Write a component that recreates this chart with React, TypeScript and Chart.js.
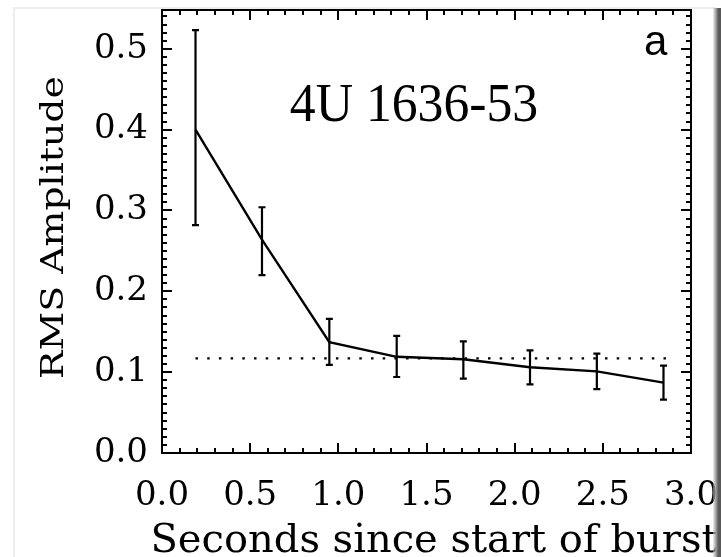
import React, { useEffect, useRef } from 'react';
import { Chart, registerables } from 'chart.js';

Chart.register(...registerables);

// Burst time bins (s) and fractional RMS amplitude with 1-sigma limits
const burstTimes = [0.19, 0.567, 0.949, 1.331, 1.709, 2.087, 2.466, 2.844];
const rmsAmplitude = [0.4, 0.264, 0.137, 0.119, 0.116, 0.106, 0.101, 0.087];
const rmsUpper = [0.523, 0.304, 0.166, 0.145, 0.138, 0.127, 0.123, 0.108];
const rmsLower = [0.282, 0.22, 0.109, 0.094, 0.092, 0.085, 0.079, 0.066];

// Mean amplitude level shown as a dotted reference
const meanLevel = 0.117;
const meanLevelSpan = [0.19, 2.86];

// Axes
const xTickValues = [0, 0.5, 1.0, 1.5, 2.0, 2.5, 3.0];
const yTickValues = [0, 0.1, 0.2, 0.3, 0.4, 0.5];
const xRange = [0, 3.0];
const yRange = [0, 0.548];
const xMinorStep = 0.1;
const xMinorPerMajor = 5;
const yMinorStep = 0.01;
const yMinorPerMajor = 10;

const sourceName = '4U 1636-53';
const panelLetter = 'a';
const xTitle = 'Seconds since start of burst';
const yTitle = 'RMS Amplitude';

const AXIS_FONT = '"DejaVu Serif", serif';

const framePlugin = {
  id: 'frameBarsAndText',
  afterDatasetsDraw(chart: any) {
    const { ctx, chartArea: a, scales } = chart;
    const xs = scales.x;
    const ys = scales.y;
    ctx.save();
    ctx.strokeStyle = '#000';
    ctx.fillStyle = '#000';

    // error bars
    ctx.lineWidth = 2.2;
    ctx.beginPath();
    const cap = 3.5;
    for (let i = 0; i < burstTimes.length; i++) {
      const px = xs.getPixelForValue(burstTimes[i]);
      const top = ys.getPixelForValue(rmsUpper[i]);
      const bot = ys.getPixelForValue(rmsLower[i]);
      ctx.moveTo(px, top);
      ctx.lineTo(px, bot);
      ctx.moveTo(px - cap, top);
      ctx.lineTo(px + cap, top);
      ctx.moveTo(px - cap, bot);
      ctx.lineTo(px + cap, bot);
    }
    ctx.stroke();

    // plot frame
    ctx.lineWidth = 2;
    ctx.strokeRect(a.left, a.top, a.right - a.left, a.bottom - a.top);

    // inward tick marks on all four sides
    ctx.beginPath();
    const nx = Math.round((xRange[1] - xRange[0]) / xMinorStep);
    for (let i = 0; i <= nx; i++) {
      const px = Math.round(xs.getPixelForValue(xRange[0] + i * xMinorStep));
      const len = i % xMinorPerMajor === 0 ? 10 : 5;
      ctx.moveTo(px, a.bottom);
      ctx.lineTo(px, a.bottom - len);
      ctx.moveTo(px, a.top);
      ctx.lineTo(px, a.top + len);
    }
    const ny = Math.floor((yRange[1] - yRange[0]) / yMinorStep + 1e-6);
    for (let i = 0; i <= ny; i++) {
      const py = Math.round(ys.getPixelForValue(yRange[0] + i * yMinorStep));
      const len = i % yMinorPerMajor === 0 ? 10 : 5;
      ctx.moveTo(a.left, py);
      ctx.lineTo(a.left + len, py);
      ctx.moveTo(a.right, py);
      ctx.lineTo(a.right - len, py);
    }
    ctx.stroke();

    // source name
    ctx.save();
    ctx.font = '55px "Liberation Serif", serif';
    ctx.textAlign = 'center';
    ctx.textBaseline = 'alphabetic';
    ctx.translate(414, 120.5);
    ctx.scale(0.94, 1);
    ctx.fillText(sourceName, 0, 0);
    ctx.restore();

    // panel letter
    ctx.font = '42px "Liberation Sans", sans-serif';
    ctx.textAlign = 'left';
    ctx.textBaseline = 'alphabetic';
    ctx.fillText(panelLetter, 644, 54.5);

    // x axis title
    ctx.font = '40px ' + AXIS_FONT;
    ctx.textAlign = 'center';
    ctx.fillText(xTitle, 434, 552);

    // y axis title
    ctx.save();
    ctx.translate(62.7, 227.5);
    ctx.rotate(-Math.PI / 2);
    ctx.scale(1.22, 1);
    ctx.font = '31px ' + AXIS_FONT;
    ctx.textAlign = 'center';
    ctx.fillText(yTitle, 0, 0);
    ctx.restore();

    ctx.restore();
  },
};

export default function App() {
  const ref = useRef<HTMLCanvasElement>(null);

  useEffect(() => {
    const canvas = ref.current;
    if (!canvas) return;
    const chart = new Chart(canvas, {
      type: 'scatter',
      data: {
        datasets: [
          {
            data: burstTimes.map((x, i) => ({ x, y: rmsAmplitude[i] })),
            showLine: true,
            borderColor: '#000',
            borderWidth: 2.4,
            pointRadius: 0,
            tension: 0,
            fill: false,
          },
          {
            data: meanLevelSpan.map((x) => ({ x, y: meanLevel })),
            showLine: true,
            borderColor: '#000',
            borderWidth: 2.2,
            borderDash: [2.5, 9.2],
            pointRadius: 0,
            fill: false,
          },
        ],
      },
      options: {
        animation: false,
        responsive: false,
        devicePixelRatio: 1,
        layout: { padding: { left: 0, top: 10, right: 30, bottom: 0 } },
        plugins: { legend: { display: false }, tooltip: { enabled: false } },
        scales: {
          x: {
            type: 'linear',
            min: xRange[0],
            max: xRange[1],
            grid: { display: false },
            border: { display: false },
            afterBuildTicks: (s: any) => {
              s.ticks = xTickValues.map((value) => ({ value }));
            },
            afterFit: (s: any) => {
              s.height = 104;
              s.paddingLeft = 0;
              s.paddingRight = 0;
            },
            ticks: {
              autoSkip: false,
              maxRotation: 0,
              padding: 15,
              color: '#000',
              font: { family: AXIS_FONT, size: 34 },
              callback: (v: any) => Number(v).toFixed(1),
            },
          },
          y: {
            type: 'linear',
            min: yRange[0],
            max: yRange[1],
            grid: { display: false },
            border: { display: false },
            afterBuildTicks: (s: any) => {
              s.ticks = yTickValues.map((value) => ({ value }));
            },
            afterFit: (s: any) => {
              s.width = 162;
              s.paddingTop = 0;
              s.paddingBottom = 0;
            },
            ticks: {
              autoSkip: false,
              padding: 6,
              color: '#000',
              font: { family: AXIS_FONT, size: 34 },
              callback: (v: any) => Number(v).toFixed(1),
            },
          },
        },
      },
      plugins: [framePlugin],
    } as any);
    return () => chart.destroy();
  }, []);

  return (
    <div
      style={{
        position: 'absolute',
        left: 0,
        top: 0,
        width: 721,
        height: 557,
        background: '#fff',
        overflow: 'hidden',
      }}
    >
      <canvas
        ref={ref}
        width={721}
        height={557}
        style={{ display: 'block', position: 'absolute', left: 0, top: 0 }}
      />
      <div style={{ position: 'absolute', left: 13, top: 7, width: 2, height: 550, background: '#ececec' }} />
      <div style={{ position: 'absolute', left: 13, top: 7, width: 703, height: 2, background: '#eeeeee' }} />
      <div
        style={{
          position: 'absolute',
          left: 713,
          top: 8,
          width: 8,
          height: 549,
          background: 'linear-gradient(to right, rgba(220,220,220,0.4), #9a9a9a 40%, #5c5c5c 65%, #555 100%)',
        }}
      />
    </div>
  );
}
